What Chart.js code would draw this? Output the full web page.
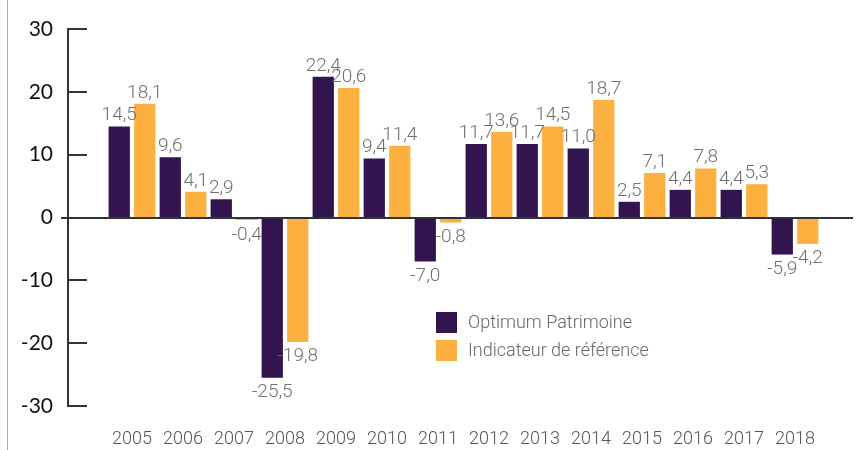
<!DOCTYPE html>
<html>
<head>
<meta charset="utf-8">
<script src="https://cdn.jsdelivr.net/npm/chart.js@4"></script>
<style>
  html, body { margin: 0; padding: 0; background: #fff; }
  #wrap { width: 856px; height: 450px; position: relative; }
</style>
</head>
<body>
<div id="wrap"><canvas id="perfChart"></canvas></div>
<script>
/* data */
const years = [2005, 2006, 2007, 2008, 2009, 2010, 2011, 2012, 2013, 2014, 2015, 2016, 2017, 2018];
const optimum = [14.5, 9.6, 2.9, -25.5, 22.4, 9.4, -7.0, 11.7, 11.7, 11.0, 2.5, 4.4, 4.4, -5.9];
const reference = [18.1, 4.1, -0.4, -19.8, 20.6, 11.4, -0.8, 13.6, 14.5, 18.7, 7.1, 7.8, 5.3, -4.2];
const yTicks = [-30, -20, -10, 0, 10, 20, 30];
const seriesNames = ['Optimum Patrimoine', 'Indicateur de référence'];
const seriesColors = ['#32154e', '#fcb03f'];

const LABEL_SIZE = 19;
const LABEL_FONT = `300 ${LABEL_SIZE}px Roboto, "Liberation Sans", sans-serif`;
const AXIS_COLOR = '#333';

const fmt = v => v.toFixed(1).replace('.', ',');

/* draws the frame details: inward ticks, zero line, value labels, legend */
const decorPlugin = {
  id: 'decor',
  beforeDraw(chart) {
    const ctx = chart.ctx;
    ctx.save();
    ctx.strokeStyle = '#a8a8a8';
    ctx.lineWidth = 1;
    ctx.beginPath();
    ctx.moveTo(7.5, 0);
    ctx.lineTo(7.5, chart.height);
    ctx.stroke();
    ctx.restore();
  },
  afterDatasetsDraw(chart) {
    const ctx = chart.ctx;
    const yScale = chart.scales.y;
    const area = chart.chartArea;
    ctx.save();

    // inward tick marks
    ctx.strokeStyle = AXIS_COLOR;
    ctx.lineWidth = 2;
    yTicks.forEach(t => {
      const py = Math.round(yScale.getPixelForValue(t));
      ctx.beginPath();
      ctx.moveTo(area.left, py);
      ctx.lineTo(area.left + 19, py);
      ctx.stroke();
    });

    // zero line
    const y0 = Math.round(yScale.getPixelForValue(0));
    ctx.beginPath();
    ctx.moveTo(area.left - 7, y0);
    ctx.lineTo(area.right, y0);
    ctx.stroke();

    // value labels (6px clear of the bar end)
    ctx.font = LABEL_FONT;
    ctx.fillStyle = '#6f6f6f';
    ctx.textAlign = 'center';
    ctx.textBaseline = 'alphabetic';
    const capH = LABEL_SIZE * 0.71;
    chart.data.datasets.forEach((ds, di) => {
      const meta = chart.getDatasetMeta(di);
      meta.data.forEach((bar, i) => {
        const v = ds.data[i].y;
        if (v >= 0) {
          ctx.fillText(fmt(v), bar.x, bar.y - 6);
        } else {
          ctx.fillText(fmt(v), bar.x, bar.y + 6 + capH);
        }
      });
    });

    // legend
    ctx.font = '300 18px Roboto, "Liberation Sans", sans-serif';
    ctx.textAlign = 'left';
    ctx.textBaseline = 'middle';
    chart.data.datasets.forEach((ds, di) => {
      const top = 312 + di * 28;
      ctx.fillStyle = ds.backgroundColor;
      ctx.fillRect(436, top, 21, 21);
      ctx.fillStyle = '#666';
      ctx.fillText(ds.label, 468, top + 11);
    });

    ctx.restore();
  }
};

new Chart(document.getElementById('perfChart'), {
  type: 'bar',
  data: {
    datasets: [
      {
        label: seriesNames[0],
        data: years.map((yr, i) => ({ x: yr, y: optimum[i] })),
        backgroundColor: seriesColors[0]
      },
      {
        label: seriesNames[1],
        data: years.map((yr, i) => ({ x: yr, y: reference[i] })),
        backgroundColor: seriesColors[1]
      }
    ]
  },
  options: {
    responsive: true,
    maintainAspectRatio: false,
    animation: false,
    categoryPercentage: 1.0,
    barPercentage: 0.835,
    layout: { padding: { top: 29, right: 3, left: 0, bottom: 0 } },
    plugins: {
      legend: { display: false },
      tooltip: { enabled: false }
    },
    scales: {
      x: {
        type: 'linear',
        min: 2003.745,
        max: 2019.137,
        offset: false,
        grid: { display: false },
        border: { display: false },
        afterBuildTicks: scale => { scale.ticks = years.map(v => ({ value: v })); },
        afterFit: scale => { scale.height = 44; },
        ticks: {
          autoSkip: false,
          maxRotation: 0,
          padding: 15,
          color: '#555',
          font: { family: 'Roboto, "Liberation Sans", sans-serif', size: 18, weight: '300' },
          callback: v => String(v)
        }
      },
      y: {
        min: -30,
        max: 30,
        afterFit: scale => { scale.width = 68; },
        afterBuildTicks: scale => { scale.ticks = yTicks.map(v => ({ value: v })); },
        grid: { display: true, drawOnChartArea: false, drawTicks: false },
        border: { display: true, color: AXIS_COLOR, width: 2 },
        ticks: {
          padding: 15,
          color: '#111',
          font: { family: 'Lato, "Open Sans", sans-serif', size: 21, weight: '400' }
        }
      }
    }
  },
  plugins: [decorPlugin]
});
</script>
</body>
</html>
